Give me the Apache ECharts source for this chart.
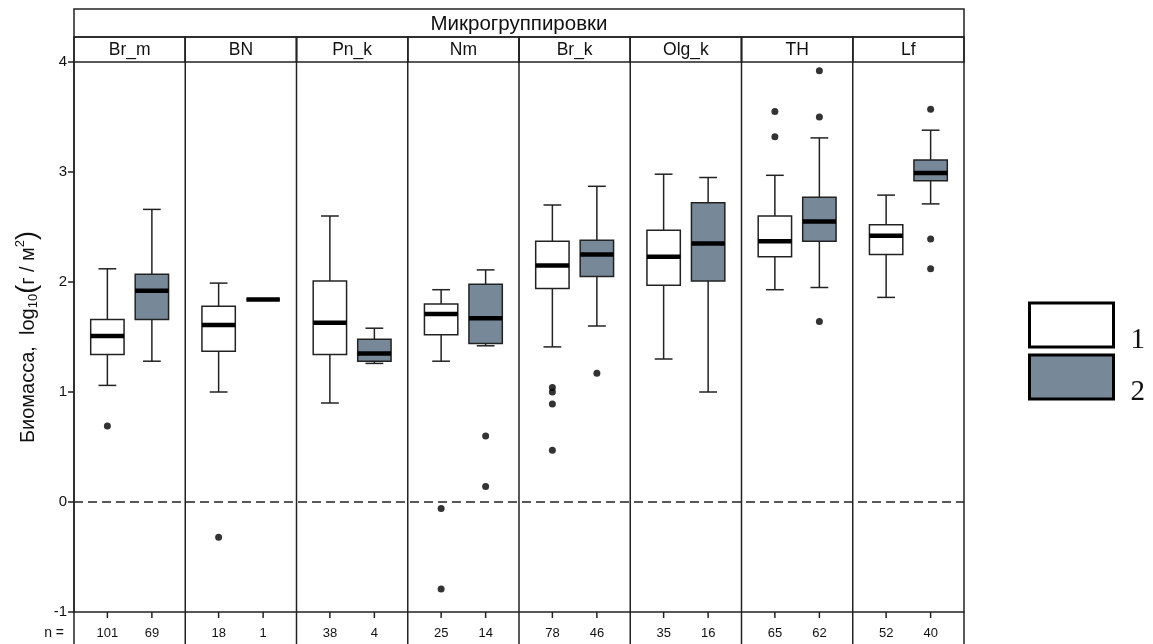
<!DOCTYPE html>
<html>
<head>
<meta charset="utf-8">
<script src="https://cdn.jsdelivr.net/npm/echarts@6/dist/echarts.min.js"></script>
<style>html,body{margin:0;padding:0;background:#fff}#c{width:1153px;height:644px}</style>
</head>
<body>
<div id="c"></div>
<script>
// ---- data ----
const groups = ['Br_m', 'BN', 'Pn_k', 'Nm', 'Br_k', 'Olg_k', 'TH', 'Lf'];
const headerTitle = 'Микрогруппировки';
const nCounts1 = [101, 18, 38, 25, 78, 35, 65, 52];
const nCounts2 = [69, 1, 4, 14, 46, 16, 62, 40];
// [lower whisker, Q1, median, Q3, upper whisker]
const stats1 = [
  [1.06, 1.34, 1.51, 1.66, 2.12],
  [1.00, 1.37, 1.61, 1.78, 1.99],
  [0.90, 1.34, 1.63, 2.01, 2.60],
  [1.28, 1.52, 1.71, 1.80, 1.93],
  [1.41, 1.94, 2.15, 2.37, 2.70],
  [1.30, 1.97, 2.23, 2.47, 2.98],
  [1.93, 2.23, 2.37, 2.60, 2.97],
  [1.86, 2.25, 2.42, 2.52, 2.79]
];
const stats2 = [
  [1.28, 1.66, 1.92, 2.07, 2.66],
  [1.84, 1.84, 1.84, 1.84, 1.84],
  [1.26, 1.28, 1.35, 1.48, 1.58],
  [1.42, 1.44, 1.67, 1.98, 2.11],
  [1.60, 2.05, 2.25, 2.38, 2.87],
  [1.00, 2.01, 2.35, 2.72, 2.95],
  [1.95, 2.37, 2.55, 2.77, 3.31],
  [2.71, 2.92, 2.99, 3.11, 3.38]
];
const outliers1 = [[0.69], [-0.32], [], [-0.06, -0.79], [1.04, 1.00, 0.89, 0.47], [], [3.55, 3.32], []];
const outliers2 = [[], [], [], [0.60, 0.14], [1.17], [], [3.92, 3.50, 1.64], [3.57, 2.39, 2.12]];
const yTicks = [-1, 0, 1, 2, 3, 4];
const legendNames = ['1', '2'];

// ---- build ----
const POS1 = 0.3, POS2 = 0.7;
const LINE = '#222';
const FONT = 'Liberation Sans, Arial, sans-serif';
const SERIF = 'Liberation Serif, Times New Roman, serif';
const FILL1 = '#ffffff', FILL2 = '#778899';

function boxData(stats, off) {
  return stats.map((s, i) => [i + off].concat(s));
}
function outlierData(outs, off) {
  const r = [];
  outs.forEach((arr, i) => arr.forEach(v => r.push([i + off, v])));
  return r;
}

function renderBox(params, api) {
  const x = api.value(0);
  const lo = api.coord([x, api.value(1)]);
  const q1 = api.coord([x, api.value(2)]);
  const md = api.coord([x, api.value(3)]);
  const q3 = api.coord([x, api.value(4)]);
  const hi = api.coord([x, api.value(5)]);
  const bw = api.size([0.3, 0])[0];
  const cw = api.size([0.16, 0])[0];
  const st = { stroke: LINE, lineWidth: 1.5, fill: null };
  const cx = lo[0];
  return {
    type: 'group',
    children: [
      { type: 'line', shape: { x1: cx, y1: hi[1], x2: cx, y2: q3[1] }, style: st },
      { type: 'line', shape: { x1: cx, y1: q1[1], x2: cx, y2: lo[1] }, style: st },
      { type: 'line', shape: { x1: cx - cw / 2, y1: hi[1], x2: cx + cw / 2, y2: hi[1] }, style: st },
      { type: 'line', shape: { x1: cx - cw / 2, y1: lo[1], x2: cx + cw / 2, y2: lo[1] }, style: st },
      { type: 'rect', shape: { x: cx - bw / 2, y: q3[1], width: bw, height: q1[1] - q3[1] },
        style: { fill: api.visual('color'), stroke: LINE, lineWidth: 1.5 } },
      { type: 'line', shape: { x1: cx - bw / 2, y1: md[1], x2: cx + bw / 2, y2: md[1] },
        style: { stroke: '#000', lineWidth: 4.5 } }
    ]
  };
}

function renderFrame(params, api) {
  const i = api.value(0);
  const tl = api.coord([i, 4]);
  const br = api.coord([i + 1, -1]);
  const st = { stroke: LINE, lineWidth: 1.5, fill: null };
  const stripH = 25;
  const children = [];
  children.push({ type: 'rect', shape: { x: tl[0], y: tl[1] - stripH, width: br[0] - tl[0], height: stripH }, style: st });
  children.push({ type: 'text', style: { text: groups[i], x: (tl[0] + br[0]) / 2, y: tl[1] - stripH / 2 + 1,
    align: 'center', verticalAlign: 'middle', fontSize: 17.5, fontFamily: FONT, fill: '#111' } });
  children.push({ type: 'line', shape: { x1: br[0], y1: tl[1] - stripH, x2: br[0], y2: br[1] + 40 }, style: st });
  if (i === 0) {
    children.push({ type: 'line', shape: { x1: tl[0], y1: tl[1] - stripH, x2: tl[0], y2: br[1] + 40 }, style: st });
    const right = api.coord([groups.length, 4]);
    children.push({ type: 'rect', shape: { x: tl[0], y: tl[1] - stripH - 28, width: right[0] - tl[0], height: 28 }, style: st });
    children.push({ type: 'text', style: { text: headerTitle, x: (tl[0] + right[0]) / 2, y: tl[1] - stripH - 13,
      align: 'center', verticalAlign: 'middle', fontSize: 20.5, fontFamily: FONT, fill: '#111' } });
    children.push({ type: 'text', style: { text: 'n =', x: tl[0] - 10, y: br[1] + 21,
      align: 'right', verticalAlign: 'middle', fontSize: 14, fontFamily: FONT, fill: '#111' } });
  }
  [[POS1, nCounts1[i]], [POS2, nCounts2[i]]].forEach(([off, n]) => {
    const p = api.coord([i + off, -1]);
    children.push({ type: 'line', shape: { x1: p[0], y1: p[1], x2: p[0], y2: p[1] + 6 }, style: st });
    children.push({ type: 'text', style: { text: String(n), x: p[0], y: p[1] + 21,
      align: 'center', verticalAlign: 'middle', fontSize: 13, fontFamily: FONT, fill: '#111' } });
  });
  return { type: 'group', children };
}

const chart = echarts.init(document.getElementById('c'), null, { renderer: 'canvas' });
chart.setOption({
  backgroundColor: '#fff',
  animation: false,
  grid: { left: 74, top: 62, width: 890, height: 550, containLabel: false, outerBoundsMode: 'none' },
  xAxis: {
    type: 'value', min: 0, max: groups.length, interval: 1,
    axisLine: { show: true, onZero: false, lineStyle: { color: LINE, width: 1.5 } },
    axisTick: { show: false }, axisLabel: { show: false }, splitLine: { show: false }
  },
  yAxis: {
    type: 'value', min: yTicks[0], max: yTicks[yTicks.length - 1], interval: 1,
    axisLine: { show: true, onZero: false, lineStyle: { color: LINE, width: 1.5 } },
    axisTick: { show: true, length: 6, lineStyle: { color: LINE, width: 1.5 } },
    axisLabel: { fontSize: 15, color: '#111', fontFamily: FONT, margin: 7 },
    splitLine: { show: false },
    name: '{a|Биомасса,  log}{b|10}{c|(}{a|г / м}{d|2}{c|)}',
    nameLocation: 'middle', nameRotate: 90, nameGap: 32,
    nameTextStyle: {
      color: '#111', fontFamily: FONT,
      rich: {
        a: { fontSize: 20, fontFamily: FONT, color: '#111', lineHeight: 28, verticalAlign: 'middle' },
        b: { fontSize: 13, fontFamily: FONT, color: '#111', lineHeight: 28, verticalAlign: 'bottom', padding: [0, 0, 2, 0] },
        c: { fontSize: 27, fontFamily: FONT, color: '#111', lineHeight: 28, verticalAlign: 'middle' },
        d: { fontSize: 13, fontFamily: FONT, color: '#111', lineHeight: 28, verticalAlign: 'top' }
      }
    }
  },
  legend: {
    data: legendNames.map((n, k) => ({
      name: n, icon: 'rect',
      itemStyle: { color: k === 0 ? FILL1 : FILL2, borderColor: '#000', borderWidth: 3 }
    })),
    orient: 'vertical', left: 1028, top: 295, padding: 0,
    itemWidth: 84, itemHeight: 44, itemGap: -8,
    formatter: '{t|{name}}',
    textStyle: {
      fontFamily: SERIF, fontSize: 29, color: '#111',
      rich: { t: { fontFamily: SERIF, fontSize: 29, color: '#111', lineHeight: 20, padding: [31, 0, 0, 12] } }
    },
    selectedMode: false
  },
  series: [
    {
      type: 'custom', name: 'frame', silent: true, clip: false, z: 1,
      renderItem: renderFrame,
      encode: { x: 0 },
      data: groups.map((g, i) => [i])
    },
    {
      type: 'custom', name: legendNames[0], silent: true, clip: false, z: 3,
      itemStyle: { color: FILL1 },
      renderItem: renderBox,
      encode: { x: 0, y: [1, 2, 3, 4, 5] },
      data: boxData(stats1, POS1)
    },
    {
      type: 'custom', name: legendNames[1], silent: true, clip: false, z: 3,
      itemStyle: { color: FILL2 },
      renderItem: renderBox,
      encode: { x: 0, y: [1, 2, 3, 4, 5] },
      data: boxData(stats2, POS2)
    },
    {
      type: 'scatter', name: 'outliers', silent: true, z: 4,
      symbol: 'circle', symbolSize: 7,
      itemStyle: { color: '#000' },
      data: outlierData(outliers1, POS1).concat(outlierData(outliers2, POS2)),
      markLine: {
        silent: true, symbol: ['none', 'none'], label: { show: false },
        lineStyle: { color: LINE, width: 1.5, type: [9, 5] },
        data: [{ yAxis: 0 }]
      }
    }
  ]
});
</script>
</body>
</html>
